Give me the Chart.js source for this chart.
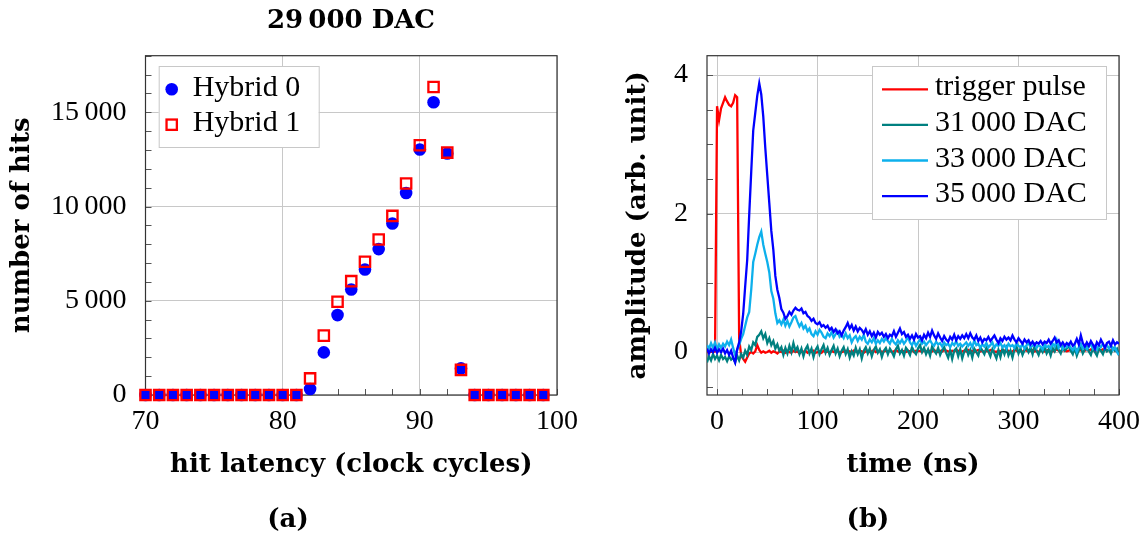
<!DOCTYPE html>
<html>
<head>
<meta charset="utf-8">
<script src="https://cdn.jsdelivr.net/npm/chart.js@4.4.1/dist/chart.umd.min.js"></script>
<style>
    html, body { margin: 0; padding: 0; background: #fff; }
    #wrap { position: relative; width: 1146px; height: 537px; }
    canvas { position: absolute; top: 0; }
    #latency { left: 0; }
    #pulse { left: 575px; }
</style>
</head>
<body>
<div id="wrap">
    <canvas id="latency" width="600" height="537"></canvas>
    <canvas id="pulse" width="571" height="537"></canvas>
</div>
<script>
// (a) hit latency scan at 29 000 DAC
const latencyCycles = [70, 71, 72, 73, 74, 75, 76, 77, 78, 79, 80, 81, 82, 83, 84, 85, 86, 87, 88, 89, 90, 91, 92, 93, 94, 95, 96, 97, 98, 99];
const hitsHybrid0 = [0, 0, 0, 0, 0, 0, 0, 0, 0, 0, 0, 0, 320, 2260, 4240, 5600, 6660, 7740, 9100, 10720, 13020, 15530, 12810, 1410, 0, 0, 0, 0, 0, 0];
const hitsHybrid1 = [0, 0, 0, 0, 0, 0, 0, 0, 0, 0, 0, 0, 880, 3150, 4950, 6040, 7070, 8250, 9500, 11220, 13250, 16340, 12860, 1330, 0, 0, 0, 0, 0, 0];
const latencyTicks = [70, 72, 74, 76, 78, 80, 82, 84, 86, 88, 90, 92, 94, 96, 98, 100];
const latencyLabels = [70, 80, 90, 100];
const hitsTicks = [0, 1000, 2000, 3000, 4000, 5000, 6000, 7000, 8000, 9000, 10000, 11000, 12000, 13000, 14000, 15000, 16000, 17000, 18000];
const hitsLabels = [0, 5000, 10000, 15000];

// (b) trigger pulse and shaper output
const timeNs = [
    -10, -8, -6, -4, -2, 0, 2, 4, 6, 8,
    10, 12, 14, 16, 18, 20, 22, 24, 26, 28,
    30, 32, 34, 36, 38, 40, 42, 44, 46, 48,
    50, 52, 54, 56, 58, 60, 62, 64, 66, 68,
    70, 72, 74, 76, 78, 80, 82, 84, 86, 88,
    90, 92, 94, 96, 98, 100, 102, 104, 106, 108,
    110, 112, 114, 116, 118, 120, 122, 124, 126, 128,
    130, 132, 134, 136, 138, 140, 142, 144, 146, 148,
    150, 152, 154, 156, 158, 160, 162, 164, 166, 168,
    170, 172, 174, 176, 178, 180, 182, 184, 186, 188,
    190, 192, 194, 196, 198, 200, 202, 204, 206, 208,
    210, 212, 214, 216, 218, 220, 222, 224, 226, 228,
    230, 232, 234, 236, 238, 240, 242, 244, 246, 248,
    250, 252, 254, 256, 258, 260, 262, 264, 266, 268,
    270, 272, 274, 276, 278, 280, 282, 284, 286, 288,
    290, 292, 294, 296, 298, 300, 302, 304, 306, 308,
    310, 312, 314, 316, 318, 320, 322, 324, 326, 328,
    330, 332, 334, 336, 338, 340, 342, 344, 346, 348,
    350, 352, 354, 356, 358, 360, 362, 364, 366, 368,
    370, 372, 374, 376, 378, 380, 382, 384, 386, 388,
    390, 392, 394, 396, 398, 400
];
const triggerPulse = [
    0.01, -0.01, 0.02, 0.0, 0.01, 3.55, 3.35, 3.52, 3.6, 3.68,
    3.62, 3.57, 3.55, 3.6, 3.71, 3.68, 0.2, -0.05, -0.1, -0.14,
    -0.08, -0.02, 0.0, -0.02, 0.01, 0.1, 0.03, -0.01, 0.01, -0.01,
    0.0, 0.02, -0.01, 0.01, 0.0, -0.02, 0.01, 0.0, 0.02, -0.01,
    0.01, 0.0, -0.01, 0.02, 0.0, 0.01, -0.02, 0.01, 0.0, 0.02,
    -0.01, 0.01, 0.0, 0.02, -0.01, 0.0, 0.01, -0.01, 0.02, 0.0,
    0.01, -0.01, 0.02, 0.0, 0.01, 0.02, -0.01, 0.0, 0.01, 0.02,
    0.0, 0.01, -0.01, 0.02, 0.01, 0.0, 0.02, 0.01, -0.01, 0.01,
    0.02, 0.0, 0.01, 0.03, 0.0, 0.01, 0.02, 0.0, 0.01, 0.02,
    0.01, 0.02, 0.0, 0.01, 0.03, 0.01, 0.0, 0.02, 0.01, 0.0,
    0.02, 0.01, 0.03, 0.0, 0.02, 0.01, 0.02, 0.0, 0.03, 0.01,
    0.0, 0.02, 0.01, 0.03, 0.01, 0.0, 0.02, 0.01, 0.03, 0.02,
    0.01, 0.0, 0.02, 0.01, 0.03, 0.02, 0.0, 0.01, 0.02, 0.01,
    0.03, 0.01, 0.02, 0.0, 0.02, 0.03, 0.01, 0.02, 0.0, 0.02,
    0.01, 0.03, 0.02, 0.01, 0.0, 0.02, 0.01, 0.03, 0.02, 0.01,
    0.02, 0.0, 0.01, 0.03, 0.02, 0.01, 0.02, 0.0, 0.03, 0.02,
    0.01, 0.02, 0.03, 0.01, 0.02, 0.0, 0.02, 0.03, 0.01, 0.02,
    0.03, 0.02, 0.01, 0.02, 0.04, 0.02, 0.01, 0.03, 0.02, 0.01,
    0.02, 0.03, 0.01, 0.02, 0.04, 0.02, 0.03, 0.01, 0.02, 0.03,
    0.02, 0.04, 0.02, 0.03, 0.01, 0.03, 0.02, 0.04, 0.03, 0.02,
    0.03, 0.02, 0.04, 0.02, 0.01, 0.0
];
const dac31000 = [
    -0.15, -0.06, -0.12, -0.03, -0.1, -0.05, -0.12, -0.04, -0.1, -0.07,
    -0.13, -0.06, -0.11, -0.08, -0.15, -0.05, -0.12, -0.03, -0.08, 0.02,
    -0.04, 0.08, 0.03, 0.14, 0.1, 0.22, 0.25, 0.3, 0.2, 0.26,
    0.13, 0.2, 0.1, 0.16, 0.05, 0.11, 0.02, 0.07, -0.04, 0.06,
    -0.02, 0.09, 0.0, 0.13, 0.02, 0.07, -0.03, 0.05, -0.06, 0.04,
    0.09, -0.02, 0.05, -0.07, 0.03, 0.08, -0.03, 0.04, 0.1, -0.01,
    0.06, -0.04, 0.03, 0.09, -0.02, 0.05, -0.06, 0.02, 0.07, -0.03,
    0.04, -0.08, 0.01, -0.05, 0.06, -0.03, 0.04, -0.09, 0.02, 0.07,
    -0.02, 0.05, -0.06, 0.03, 0.08, -0.01, 0.04, -0.07, 0.02, 0.06,
    -0.03, 0.05, 0.0, -0.06, 0.04, 0.09, -0.02, 0.03, -0.05, 0.06,
    0.02, -0.04, 0.07, 0.01, -0.03, 0.05, 0.1, 0.0, 0.06, -0.03,
    0.04, -0.05, 0.08, 0.02, -0.02, 0.06, -0.04, 0.03, 0.07, -0.01,
    -0.08, 0.03, -0.1, 0.02, 0.05, -0.06, 0.04, -0.09, 0.01, 0.06,
    -0.04, 0.03, -0.08, 0.05, 0.0, -0.05, 0.07, 0.02, -0.03, 0.06,
    0.01, -0.06, 0.04, -0.02, -0.09, 0.03, -0.07, 0.05, -0.03, 0.06,
    -0.05, 0.02, -0.08, 0.04, 0.08, -0.02, 0.05, -0.04, 0.03, 0.07,
    0.0, 0.06, -0.03, 0.09, 0.02, -0.04, 0.05, 0.0, 0.07, -0.02,
    0.04, -0.05, 0.06, 0.01, 0.08, 0.03, -0.02, 0.07, 0.02, 0.05,
    0.09, 0.02, -0.03, 0.06, -0.05, 0.03, 0.07, -0.02, 0.04, 0.08,
    0.01, -0.04, 0.06, 0.0, -0.05, 0.05, 0.02, -0.03, 0.06, 0.01,
    0.04, -0.02, 0.06, 0.02, 0.05, -0.05
];
const dac33000 = [
    0.1, 0.05, 0.13, 0.06, 0.14, 0.04, 0.11, 0.06, 0.12, 0.08,
    0.15, 0.1, 0.18, 0.06, -0.04, 0.03, 0.1, 0.19, 0.26, 0.38,
    0.5, 0.58, 0.9, 1.3, 1.42, 1.55, 1.66, 1.74, 1.55, 1.42,
    1.3, 1.15, 0.88, 0.77, 0.56, 0.42, 0.46, 0.4, 0.47, 0.38,
    0.45, 0.37, 0.43, 0.5, 0.52, 0.44, 0.37, 0.42, 0.34, 0.38,
    0.3, 0.34, 0.26, 0.23, 0.3, 0.25, 0.32, 0.28, 0.22, 0.2,
    0.27, 0.23, 0.29, 0.21, 0.26, 0.3, 0.22, 0.25, 0.2, 0.27,
    0.2, 0.24, 0.14, 0.2, 0.23, 0.16, 0.22, 0.18, 0.25, 0.15,
    0.12, 0.18, 0.14, 0.2, 0.12, 0.17, 0.13, 0.19, 0.15, 0.2,
    0.16, 0.12, 0.19, 0.14, 0.11, 0.17, 0.13, 0.18, 0.12, 0.16,
    0.22, 0.14, 0.1, 0.16, 0.09, 0.14, 0.18, 0.12, 0.15, 0.1,
    0.14, 0.17, 0.12, 0.09, 0.15, 0.11, 0.13, 0.08, 0.14, 0.1,
    0.12, 0.07, 0.13, 0.1, 0.16, 0.09, 0.12, 0.08, 0.11, 0.14,
    0.09, 0.13, 0.07, 0.17, 0.1, 0.12, 0.06, 0.11, 0.08, 0.13,
    0.07, 0.1, 0.14, 0.06, 0.11, 0.09, 0.13, 0.07, 0.1, 0.05,
    0.12, 0.08, 0.1, 0.06, 0.13, 0.09, 0.07, 0.11, 0.05, 0.1,
    0.13, 0.07, 0.09, 0.12, 0.06, 0.1, 0.08, 0.04, 0.11, 0.07,
    0.09, 0.05, 0.12, 0.08, 0.17, 0.06, 0.1, 0.04, 0.09, 0.07,
    0.11, 0.06, 0.03, 0.08, 0.0, 0.07, 0.12, 0.05, 0.09, 0.04,
    0.08, 0.12, 0.05, 0.09, 0.03, 0.1, 0.07, 0.12, 0.06, 0.1,
    0.05, 0.09, 0.03, 0.07, 0.0, -0.04
];
const dac35000 = [
    0.05, -0.02, 0.04, 0.0, 0.06, -0.01, 0.04, 0.0, 0.05, -0.02,
    0.03, -0.04, 0.02, -0.08, -0.15, 0.04, 0.14, 0.3, 0.55, 0.95,
    1.33, 1.98, 2.6, 3.2, 3.45, 3.7, 3.88, 3.72, 3.4, 2.95,
    2.55, 2.15, 1.75, 1.48, 1.1, 0.9, 0.78, 0.62, 0.57, 0.48,
    0.52, 0.58, 0.54, 0.6, 0.64, 0.61, 0.6, 0.63, 0.56, 0.58,
    0.52, 0.5, 0.45, 0.48, 0.42, 0.4, 0.43, 0.37, 0.39, 0.35,
    0.38, 0.32, 0.35, 0.29, 0.33, 0.27, 0.3, 0.24, 0.31, 0.36,
    0.42, 0.34, 0.39, 0.31, 0.37, 0.3, 0.35, 0.32, 0.27, 0.33,
    0.25, 0.3, 0.23, 0.28, 0.21, 0.29, 0.25, 0.28, 0.22, 0.26,
    0.2, 0.25, 0.23, 0.3, 0.22, 0.28, 0.34, 0.26, 0.29, 0.22,
    0.25, 0.19, 0.24, 0.18, 0.26, 0.21, 0.23, 0.17, 0.25, 0.2,
    0.28, 0.22, 0.31, 0.24, 0.19, 0.27, 0.21, 0.16, 0.23, 0.18,
    0.15, 0.22, 0.18, 0.25, 0.17, 0.23, 0.19, 0.24, 0.2, 0.26,
    0.2, 0.27, 0.21, 0.18, 0.24, 0.16, 0.21, 0.14, 0.19, 0.17,
    0.22, 0.16, 0.2, 0.24, 0.18, 0.13, 0.2, 0.16, 0.22, 0.18,
    0.21, 0.17, 0.24, 0.18, 0.14, 0.2, 0.16, 0.12, 0.18, 0.14,
    0.17, 0.11, 0.15, 0.1, 0.14, 0.12, 0.16, 0.11, 0.15, 0.13,
    0.18, 0.12, 0.16, 0.21, 0.14, 0.17, 0.1, 0.14, 0.09, 0.13,
    0.1, 0.15, 0.09, 0.12, 0.19, 0.11, 0.24, 0.13, 0.08, 0.14,
    0.09, 0.16, 0.11, 0.05, 0.14, 0.1, 0.18, 0.12, 0.06, 0.13,
    0.15, 0.09, 0.17, 0.11, 0.14, 0.12
];
const timeTicks = [0, 25, 50, 75, 100, 125, 150, 175, 200, 225, 250, 275, 300, 325, 350, 375, 400];
const timeLabels = [0, 100, 200, 300, 400];
const ampTicks = [-0.5, 0, 0.5, 1, 1.5, 2, 2.5, 3, 3.5, 4];
const ampLabels = [0, 2, 4];

const SERIF = "'Liberation Serif'";
const BOLD_SERIF = "'DejaVu Serif'";
const GRID = '#c8c8c8';

function thousands(v) {
    if (v < 1000) return String(v);
    return `${Math.floor(v / 1000)}\u2009${String(v % 1000).padStart(3, '0')}`;
}

// axis box and pgfplots-style inward tick marks
function axisFrame(tickLists) {
    return {
        id: 'axisFrame',
        beforeDatasetsDraw(chart) {
            const { ctx, chartArea: a } = chart;
            ctx.save();
            ctx.strokeStyle = '#555';
            ctx.lineWidth = 1;
            for (const [id, values] of Object.entries(tickLists)) {
                const scale = chart.scales[id];
                for (const v of values) {
                    const p = Math.round(scale.getPixelForValue(v)) + 0.5;
                    ctx.beginPath();
                    if (scale.isHorizontal()) {
                        ctx.moveTo(p, a.bottom);
                        ctx.lineTo(p, a.bottom - 6);
                    } else {
                        ctx.moveTo(a.left, p);
                        ctx.lineTo(a.left + 6, p);
                    }
                    ctx.stroke();
                }
            }
            ctx.strokeStyle = '#333';
            ctx.lineWidth = 1.2;
            ctx.strokeRect(a.left, a.top, a.right - a.left, a.bottom - a.top);
            ctx.restore();
        }
    };
}

function boxLegend(cfg) {
    return {
        id: 'boxLegend',
        afterDatasetsDraw(chart) {
            const ctx = chart.ctx;
            ctx.save();
            ctx.fillStyle = '#fff';
            ctx.fillRect(cfg.x, cfg.y, cfg.w, cfg.h);
            ctx.strokeStyle = GRID;
            ctx.lineWidth = 1;
            ctx.strokeRect(cfg.x + 0.5, cfg.y + 0.5, cfg.w, cfg.h);
            chart.data.datasets.forEach((ds, i) => {
                const y = cfg.firstRow + i * cfg.rowGap;
                if (cfg.kind === 'line') {
                    ctx.strokeStyle = ds.borderColor;
                    ctx.lineWidth = ds.borderWidth;
                    ctx.beginPath();
                    ctx.moveTo(cfg.markX, y);
                    ctx.lineTo(cfg.markX + cfg.markLen, y);
                    ctx.stroke();
                } else if (ds.pointStyle === 'circle') {
                    ctx.fillStyle = ds.backgroundColor;
                    ctx.beginPath();
                    ctx.arc(cfg.markX, y, ds.pointRadius, 0, Math.PI * 2);
                    ctx.fill();
                } else {
                    const s = ds.pointRadius * Math.SQRT1_2;
                    ctx.strokeStyle = ds.borderColor;
                    ctx.lineWidth = ds.borderWidth;
                    ctx.strokeRect(cfg.markX - s, y - s, 2 * s, 2 * s);
                }
                ctx.fillStyle = '#000';
                ctx.font = cfg.font;
                ctx.textAlign = 'left';
                ctx.textBaseline = 'middle';
                ctx.fillText(ds.label, cfg.textX, y + cfg.textDy);
            });
            ctx.restore();
        }
    };
}

function figureText(items) {
    return {
        id: 'figureText',
        afterDraw(chart) {
            const ctx = chart.ctx;
            ctx.save();
            ctx.fillStyle = '#000';
            ctx.textAlign = 'center';
            ctx.textBaseline = 'middle';
            for (const it of items) {
                ctx.font = it.font;
                ctx.fillText(it.text, it.x, it.y);
            }
            ctx.restore();
        }
    };
}

function xAxis(min, max, ticks, labels, title, format) {
    return {
        type: 'linear',
        min: min,
        max: max,
        afterBuildTicks: (scale) => { scale.ticks = ticks.map((v) => ({ value: v })); },
        afterFit: (scale) => {
            scale.height = 86;
            scale.paddingLeft = 0;
            scale.paddingRight = 0;
        },
        grid: {
            color: (c) => labels.includes(c.tick.value) ? GRID : 'rgba(0,0,0,0)',
            lineWidth: 1,
            drawTicks: false
        },
        border: { display: false },
        ticks: {
            autoSkip: false,
            maxRotation: 0,
            minRotation: 0,
            padding: 10,
            color: '#000',
            font: { family: SERIF, size: 28 },
            callback: (v) => labels.includes(v) ? format(v) : ''
        },
        title: {
            display: true,
            text: title,
            color: '#000',
            font: { family: BOLD_SERIF, size: 26, weight: 'bold' },
            padding: { top: 0, bottom: 0 }
        }
    };
}

function yAxis(min, max, ticks, labels, title, width, titlePad, format) {
    return {
        type: 'linear',
        min: min,
        max: max,
        afterBuildTicks: (scale) => { scale.ticks = ticks.map((v) => ({ value: v })); },
        afterFit: (scale) => {
            scale.width = width;
            scale.paddingTop = 0;
            scale.paddingBottom = 0;
        },
        grid: {
            color: (c) => labels.includes(c.tick.value) ? GRID : 'rgba(0,0,0,0)',
            lineWidth: 1,
            drawTicks: false
        },
        border: { display: false },
        ticks: {
            autoSkip: false,
            padding: 19,
            color: '#000',
            font: { family: SERIF, size: 28 },
            callback: (v) => labels.includes(v) ? format(v) : ''
        },
        title: {
            display: true,
            text: title,
            color: '#000',
            font: { family: BOLD_SERIF, size: 26, weight: 'bold' },
            padding: { top: titlePad, bottom: 0 }
        }
    };
}

function renderLatencyChart() {
    const ctx = document.getElementById('latency');
    new Chart(ctx, {
        type: 'scatter',
        data: {
            datasets: [
                {
                    label: 'Hybrid 0',
                    data: latencyCycles.map((c, i) => ({ x: c, y: hitsHybrid0[i] })),
                    pointStyle: 'circle',
                    pointRadius: 6.3,
                    backgroundColor: '#0000ff',
                    borderWidth: 0,
                    clip: false,
                    order: 1
                },
                {
                    label: 'Hybrid 1',
                    data: latencyCycles.map((c, i) => ({ x: c, y: hitsHybrid1[i] })),
                    pointStyle: 'rect',
                    pointRadius: 7.3,
                    backgroundColor: 'rgba(0,0,0,0)',
                    borderColor: '#ff0000',
                    borderWidth: 2.3,
                    clip: false,
                    order: 0
                }
            ]
        },
        options: {
            responsive: false,
            animation: false,
            events: [],
            layout: { padding: { left: 0, right: 43, top: 55.7, bottom: 56 } },
            plugins: { legend: { display: false }, tooltip: { enabled: false } },
            scales: {
                x: xAxis(70, 100, latencyTicks, latencyLabels, 'hit latency (clock cycles)', (v) => String(v)),
                y: yAxis(0, 18000, hitsTicks, hitsLabels, 'number of hits', 145.5, 6.4, thousands)
            }
        },
        plugins: [
            axisFrame({ x: latencyTicks, y: hitsTicks }),
            boxLegend({
                kind: 'marker', x: 158.7, y: 66, w: 160, h: 81,
                firstRow: 89.3, rowGap: 35.4, markX: 171.7, textX: 192.7, textDy: -1.3,
                font: `30px ${SERIF}`
            }),
            figureText([
                { text: '29\u2009000 DAC', x: 351, y: 21.5, font: `bold 26px ${BOLD_SERIF}` },
                { text: '(a)', x: 288, y: 520, font: `bold 26px ${BOLD_SERIF}` }
            ])
        ]
    });
}

function renderPulseChart() {
    const ctx = document.getElementById('pulse');
    const line = (label, values, color, order) => ({
        label: label,
        data: values,
        borderColor: color,
        backgroundColor: color,
        borderWidth: 2.3,
        pointRadius: 0,
        tension: 0,
        order: order
    });
    new Chart(ctx, {
        type: 'line',
        data: {
            labels: timeNs,
            datasets: [
                line('trigger pulse', triggerPulse, '#ff0000', 3),
                line('31\u2009000 DAC', dac31000, '#008080', 2),
                line('33\u2009000 DAC', dac33000, '#0db0ec', 1),
                line('35\u2009000 DAC', dac35000, '#0000ff', 0)
            ]
        },
        options: {
            responsive: false,
            animation: false,
            events: [],
            layout: { padding: { left: 0, right: 27, top: 55.7, bottom: 56 } },
            plugins: { legend: { display: false }, tooltip: { enabled: false } },
            scales: {
                x: xAxis(-10, 400, timeTicks, timeLabels, 'time (ns)', (v) => String(v)),
                y: yAxis(-0.62, 4.28, ampTicks, ampLabels, 'amplitude (arb. unit)', 132, 47.4, (v) => String(v))
            }
        },
        plugins: [
            axisFrame({ x: timeTicks, y: ampTicks }),
            boxLegend({
                kind: 'line', x: 297, y: 66, w: 234, h: 153,
                firstRow: 89.3, rowGap: 35.6, markX: 307, markLen: 46, textX: 360, textDy: -1.7,
                font: `30px ${SERIF}`
            }),
            figureText([
                { text: '(b)', x: 293, y: 520, font: `bold 26px ${BOLD_SERIF}` }
            ])
        ]
    });
}

function main() {
    renderLatencyChart();
    renderPulseChart();
}

Promise.all([
    document.fonts.load(`28px ${SERIF}`),
    document.fonts.load(`bold 26px ${BOLD_SERIF}`)
]).then(main, main);
</script>
</body>
</html>
